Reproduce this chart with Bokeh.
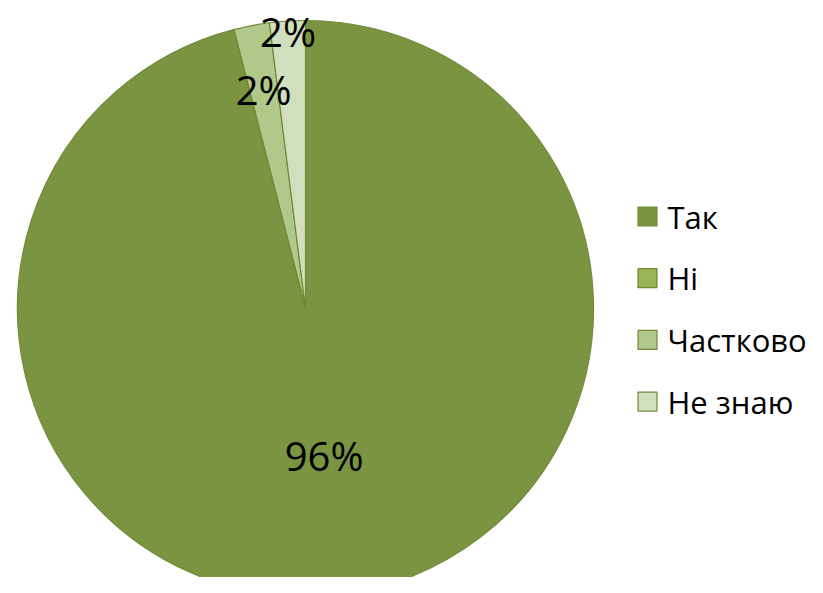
import math
from bokeh.plotting import figure
from bokeh.models import Range1d, ColumnDataSource
from bokeh.core.properties import value
from bokeh.embed import file_html
from bokeh.resources import INLINE

# ---- data ----
categories = ["Так", "Ні", "Частково", "Не знаю"]
values = [96, 0, 2, 2]
colors = ["#7A9441", "#97B555", "#B0C88A", "#D2DFBE"]

# ---- layout ----
W, H = 807, 577
cx, cy, R = 305, H - 308, 288
label_frac = [0.515, 0.8, 0.775, 0.965]
FONT = "Open Sans"
edge = "#6F8A37"

total = float(sum(values))
starts, ends, lx, ly, ltxt = [], [], [], [], []
cum = 0.0
for i, v in enumerate(values):
    a0 = math.pi / 2 - 2 * math.pi * cum / total
    cum += v
    a1 = math.pi / 2 - 2 * math.pi * cum / total
    starts.append(a0)
    ends.append(a1)
    if v > 0:
        mid = (a0 + a1) / 2
        lx.append(cx + label_frac[i] * R * math.cos(mid))
        ly.append(cy + label_frac[i] * R * math.sin(mid))
        ltxt.append(f"{round(v / total * 100)}%")

p = figure(width=W, height=H, output_backend="svg", toolbar_location=None,
           x_range=Range1d(0, W), y_range=Range1d(0, H), min_border=0)
p.axis.visible = False
p.grid.visible = False
p.outline_line_color = None
p.background_fill_color = "white"
p.border_fill_color = "white"

src = ColumnDataSource(dict(start=[s for s, v in zip(starts, values) if v > 0],
                            end=[e for e, v in zip(ends, values) if v > 0],
                            color=[c for c, v in zip(colors, values) if v > 0]))
p.wedge(x=cx, y=cy, radius=R, radius_units="screen", start_angle="start",
        end_angle="end", direction="clock", fill_color="color",
        line_color=edge, line_width=1.2, source=src)
# zero-value slice boundary line
for s, v in zip(starts, values):
    if v == 0:
        p.segment(x0=[cx], y0=[cy], x1=[cx + R * math.cos(s)], y1=[cy + R * math.sin(s)],
                  line_color=edge, line_width=1.2)

p.text(x=lx, y=ly, text=ltxt, text_font=value(FONT), text_font_size="40px",
       text_align="center", text_baseline="middle", text_color="black")

# legend
leg_x, leg_y0, leg_dy = 647, H - 216, 61.7
rows_y = [leg_y0 - i * leg_dy for i in range(len(categories))]
p.rect(x=[leg_x] * len(categories), y=rows_y, width=19, height=19,
       width_units="screen", height_units="screen",
       fill_color=colors, line_color=edge, line_width=1.2)
p.text(x=[leg_x + 20] * len(categories), y=rows_y, text=categories,
       text_font=value(FONT), text_font_size="31px", text_align="left",
       text_baseline="middle", text_color="black")

open("out.html", "w").write(file_html(p, INLINE))
